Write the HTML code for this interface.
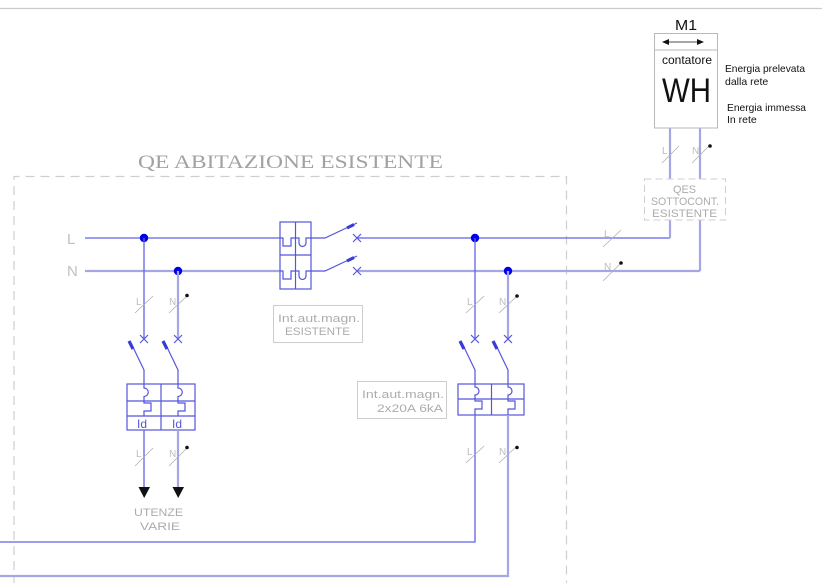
<!DOCTYPE html>
<html><head><meta charset="utf-8"><style>
html,body{margin:0;padding:0;background:#fff;}
svg{display:block;}
.cad{font-family:"Liberation Sans",sans-serif;fill:#acacac;}
.sl{stroke:#b0b0b0;stroke-width:0.8;fill:none;}
.lab{font-family:"Liberation Sans",sans-serif;fill:#bdbdbd;font-size:10px;}
.Ln{stroke:#6262e6;stroke-width:1.3;fill:none;}
.Nn{stroke:#a6a6e4;stroke-width:2.2;fill:none;}
.bx{stroke:#5555dd;stroke-width:1.2;fill:none;}
.mk{stroke:#3a3ad8;stroke-width:3.2;fill:none;}
</style></head><body>
<svg width="822" height="583" viewBox="0 0 822 583" xmlns="http://www.w3.org/2000/svg">
<line x1="0" y1="8.5" x2="822" y2="8.5" stroke="#cccccc" stroke-width="1.2"/>

<text x="138" y="168" font-family="'Liberation Serif',serif" font-size="19" fill="#a2a2a2" textLength="305" lengthAdjust="spacingAndGlyphs">QE ABITAZIONE ESISTENTE</text>
<path d="M14 600 V176.5 H566.5 V600" fill="none" stroke="#cfcfcf" stroke-width="1.2" stroke-dasharray="9 6"/>

<text x="67" y="244" class="cad" font-size="15" style="fill:#c0c0c0">L</text>
<text x="67" y="276" class="cad" font-size="15" style="fill:#c0c0c0">N</text>

<line class="Ln" x1="85" y1="238" x2="280" y2="238"/>
<line class="Nn" x1="85" y1="271" x2="280" y2="271"/>
<line class="Ln" x1="357" y1="238" x2="670" y2="238"/>
<line class="Nn" x1="357" y1="271" x2="700" y2="271"/>

<line class="Nn" x1="670" y1="128" x2="670" y2="238"/>
<line class="Nn" x1="700" y1="128" x2="700" y2="271"/>

<rect class="bx" x="280" y="222" width="31" height="67"/>
<line class="bx" x1="295.5" y1="222" x2="295.5" y2="289"/>
<line class="bx" x1="280" y1="255" x2="311" y2="255"/>
<path class="bx" d="M280 238 H283 V246 H291 V238 H299 V243 A3.5 3.5 0 0 0 306 243 V238 H311"/>
<path class="bx" d="M280 271 H283 V279 H291 V271 H299 V276 A3.5 3.5 0 0 0 306 276 V271 H311"/>
<path class="bx" d="M311 238 H325 L357 223"/>
<path class="bx" d="M311 271 H325 L357 256"/>
<line class="mk" x1="347" y1="228" x2="354" y2="224.5"/>
<line class="mk" x1="347" y1="261" x2="354" y2="257.5"/>
<path class="bx" d="M353 234 l8 8 M361 234 l-8 8"/>
<path class="bx" d="M353 267 l8 8 M361 267 l-8 8"/>
<rect x="273.5" y="305.5" width="89" height="37" fill="none" stroke="#cccccc" stroke-width="1"/>
<text x="278" y="322" class="cad" font-size="11" textLength="82" lengthAdjust="spacingAndGlyphs">Int.aut.magn.</text>
<text x="285" y="335" class="cad" font-size="11" textLength="65" lengthAdjust="spacingAndGlyphs">ESISTENTE</text>

<circle cx="144" cy="238" r="4.2" fill="#0000ee"/>
<circle cx="178" cy="271" r="4.2" fill="#0000ee"/>
<circle cx="475" cy="238" r="4.2" fill="#0000ee"/>
<circle cx="508" cy="271" r="4.2" fill="#0000ee"/>

<line class="Ln" x1="144" y1="238" x2="144" y2="339"/>
<line class="Nn" x1="178" y1="271" x2="178" y2="339"/>
<path class="bx" d="M140 335 l8 8 M148 335 l-8 8"/>
<path class="bx" d="M174 335 l8 8 M182 335 l-8 8"/>
<path class="bx" d="M131 343 L144 370 V384"/>
<path class="bx" d="M165 343 L178 370 V384"/>
<line class="mk" x1="129" y1="341" x2="133" y2="349"/>
<line class="mk" x1="163" y1="341" x2="167" y2="349"/>
<rect class="bx" x="127" y="384" width="68" height="46"/>
<line class="bx" x1="161" y1="384" x2="161" y2="430"/>
<line class="bx" x1="127" y1="401" x2="195" y2="401"/>
<line class="bx" x1="127" y1="416" x2="195" y2="416"/>
<path class="bx" d="M144 384 V388 A4.2 4.2 0 0 1 144 396.5 V401 V403 H151 V411 H144 V416"/>
<path class="bx" d="M178 384 V388 A4.2 4.2 0 0 1 178 396.5 V401 V403 H185 V411 H178 V416"/>
<text x="137" y="428" font-family="'Liberation Sans',sans-serif" font-size="12" fill="#5555dd">Id</text>
<text x="172" y="428" font-family="'Liberation Sans',sans-serif" font-size="12" fill="#5555dd">Id</text>
<line class="Ln" x1="144" y1="430" x2="144" y2="488"/>
<line class="Nn" x1="178" y1="430" x2="178" y2="488"/>
<polygon points="138.5,487 150,487 144.2,498" fill="#111"/>
<polygon points="172.5,487 184,487 178.2,498" fill="#111"/>
<text x="134" y="516" class="cad" font-size="11" textLength="49" lengthAdjust="spacingAndGlyphs">UTENZE</text>
<text x="140" y="530" class="cad" font-size="11" textLength="40" lengthAdjust="spacingAndGlyphs">VARIE</text>

<line class="sl" x1="135" y1="313" x2="153" y2="296"/>
<text x="136" y="305" class="lab">L</text>
<line class="sl" x1="169" y1="313" x2="187" y2="296"/>
<text x="169" y="305" class="lab">N</text>
<circle cx="187" cy="295.5" r="1.8" fill="#111"/>
<line class="sl" x1="135" y1="466" x2="153" y2="448"/>
<text x="136" y="457" class="lab">L</text>
<line class="sl" x1="169" y1="466" x2="187" y2="448"/>
<text x="169" y="457" class="lab">N</text>
<circle cx="187" cy="447.5" r="1.8" fill="#111"/>

<line class="Ln" x1="475" y1="238" x2="475" y2="339"/>
<line class="Nn" x1="508" y1="271" x2="508" y2="339"/>
<path class="bx" d="M471 335 l8 8 M479 335 l-8 8"/>
<path class="bx" d="M504 335 l8 8 M512 335 l-8 8"/>
<path class="bx" d="M462 343 L475 370 V384"/>
<path class="bx" d="M495 343 L508 370 V384"/>
<line class="mk" x1="460" y1="341" x2="464" y2="349"/>
<line class="mk" x1="493" y1="341" x2="497" y2="349"/>
<rect class="bx" x="458" y="384" width="66" height="31"/>
<line class="bx" x1="491.5" y1="384" x2="491.5" y2="415"/>
<line class="bx" x1="458" y1="399" x2="524" y2="399"/>
<path class="bx" d="M475 384 V387 A4 4 0 0 1 475 395 V399 V401 H482 V409 H475 V415"/>
<path class="bx" d="M508 384 V387 A4 4 0 0 1 508 395 V399 V401 H515 V409 H508 V415"/>
<rect x="357.5" y="381.5" width="89" height="37" fill="none" stroke="#cccccc" stroke-width="1"/>
<text x="362" y="398" class="cad" font-size="11" textLength="82" lengthAdjust="spacingAndGlyphs">Int.aut.magn.</text>
<text x="377" y="412" class="cad" font-size="11" textLength="66" lengthAdjust="spacingAndGlyphs">2x20A  6kA</text>
<path class="Ln" d="M475 415 V542 H0"/>
<path class="Nn" d="M508 415 V576 H0"/>
<line class="sl" x1="466" y1="313" x2="484" y2="296"/>
<text x="467" y="305" class="lab">L</text>
<line class="sl" x1="499" y1="313" x2="517" y2="296"/>
<text x="499" y="305" class="lab">N</text>
<circle cx="517" cy="296" r="1.8" fill="#111"/>
<line class="sl" x1="466" y1="463" x2="484" y2="446"/>
<text x="467" y="455" class="lab">L</text>
<line class="sl" x1="499" y1="463" x2="517" y2="446"/>
<text x="499" y="455" class="lab">N</text>
<circle cx="517" cy="447.5" r="1.8" fill="#111"/>

<line class="sl" x1="603" y1="247" x2="621" y2="230"/>
<text x="604" y="237" class="lab">L</text>
<line class="sl" x1="603" y1="281" x2="621" y2="263"/>
<text x="604" y="270" class="lab">N</text>
<circle cx="621" cy="263" r="1.8" fill="#111"/>

<line class="sl" x1="662" y1="163" x2="679" y2="146"/>
<text x="662" y="154" class="lab">L</text>
<line class="sl" x1="692" y1="163" x2="709" y2="146"/>
<text x="692" y="154" class="lab">N</text>
<circle cx="710" cy="146" r="1.8" fill="#111"/>

<rect x="644.5" y="179" width="81" height="41" fill="#ffffff" stroke="#cfcfcf" stroke-width="1" stroke-dasharray="7 4"/>
<text x="673" y="193" class="cad" font-size="11" textLength="23" lengthAdjust="spacingAndGlyphs">QES</text>
<text x="651" y="205" class="cad" font-size="11" textLength="68" lengthAdjust="spacingAndGlyphs">SOTTOCONT.</text>
<text x="652" y="217" class="cad" font-size="11" textLength="65" lengthAdjust="spacingAndGlyphs">ESISTENTE</text>

<text x="675" y="30" font-family="'Liberation Sans',sans-serif" font-size="15" fill="#111" textLength="22" lengthAdjust="spacingAndGlyphs">M1</text>
<rect x="654.5" y="33.5" width="63" height="94.5" fill="#fff" stroke="#b8b8b8" stroke-width="1"/>
<line x1="654.5" y1="50" x2="717.5" y2="50" stroke="#b8b8b8" stroke-width="1"/>
<line x1="668" y1="42" x2="698" y2="42" stroke="#111" stroke-width="0.8"/>
<polygon points="662,42 669,39 669,45" fill="#111"/>
<polygon points="704,42 697,39 697,45" fill="#111"/>
<text x="662" y="64" font-family="'Liberation Sans',sans-serif" font-size="12" fill="#111" textLength="50" lengthAdjust="spacingAndGlyphs">contatore</text>
<text x="662" y="102" font-family="'Liberation Sans',sans-serif" font-size="34" fill="#111" textLength="49" lengthAdjust="spacingAndGlyphs">WH</text>
<text x="725" y="72" font-family="'Liberation Sans',sans-serif" font-size="10.5" fill="#111" textLength="80" lengthAdjust="spacingAndGlyphs">Energia prelevata</text>
<text x="725" y="85" font-family="'Liberation Sans',sans-serif" font-size="10.5" fill="#111">dalla rete</text>
<text x="727" y="111" font-family="'Liberation Sans',sans-serif" font-size="10.5" fill="#111" textLength="79" lengthAdjust="spacingAndGlyphs">Energia immessa</text>
<text x="727" y="123" font-family="'Liberation Sans',sans-serif" font-size="10.5" fill="#111">In rete</text>
</svg>
</body></html>
